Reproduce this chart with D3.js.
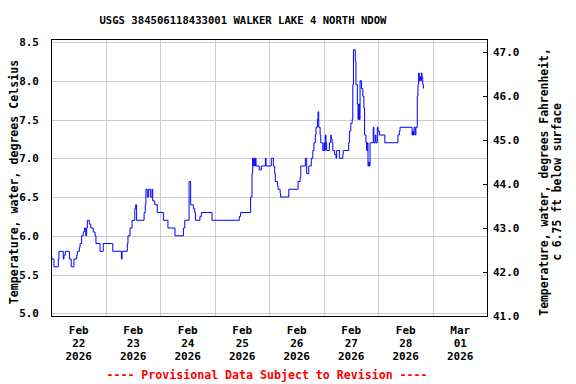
<!DOCTYPE html>
<html lang="en">
<head>
  <meta charset="UTF-8">
  <title>USGS 384506118433001 WALKER LAKE 4 NORTH NDOW</title>
  <style>
    body { margin: 0; background: #fff; }
    text { font-family: "DejaVu Sans Mono", monospace; font-weight: bold; fill: #000; }
    .grid line { stroke: #cccccc; stroke-width: 1px; shape-rendering: crispEdges; }
    .series { fill: none; stroke: #0000ff; stroke-width: 1px; }
    .frame { fill: none; stroke: #000; stroke-width: 1px; shape-rendering: crispEdges; }
    .axis path { display: none; }
    .axis line { stroke: #000; shape-rendering: crispEdges; }
  </style>
</head>
<body>
<div id="chart"></div>
<script src="https://d3js.org/d3.v7.min.js"></script>
<script>
  // hours after 2026-02-22 00:00, value held until the next reading
  var hours = [
    0.0, 0.3, 1.3, 3.2, 3.5, 5.4, 5.7, 6.3, 8.1, 8.9, 10.1, 11.3, 11.6, 12.5, 12.8,
    13.5, 14.2, 14.7, 15.3, 15.7, 16.0, 16.9, 17.5, 18.6, 19.4, 19.8, 21.6, 23.0, 27.2,
    31.0, 31.3, 33.6, 33.9, 34.8, 35.7, 36.9, 37.3, 37.7, 41.0, 41.5, 41.8, 42.4, 43.0,
    43.9, 44.5, 44.8, 45.7, 46.8, 49.5, 51.5, 54.6, 58.3, 58.9, 60.8, 61.5, 62.7, 63.3,
    63.6, 65.6, 66.2, 70.9, 82.9, 83.5, 87.9, 88.5, 88.8, 89.1, 89.4, 89.7, 90.0, 90.3,
    91.7, 92.6, 94.4, 94.7, 97.0, 97.9, 98.5, 98.8, 99.7, 100.0, 100.9, 101.1, 104.7,
    108.8, 109.7, 110.0, 112.0, 112.6, 113.5, 114.6, 115.3, 115.8, 116.4, 116.7, 117.3,
    117.6, 117.9, 118.5, 118.8, 119.7, 120.2, 120.5, 120.8, 121.1, 121.4, 122.6, 123.2,
    123.4, 123.8, 124.1, 124.9, 125.5, 125.8, 127.0, 128.5, 128.7, 131.1, 131.4, 132.0,
    132.6, 132.9, 133.2, 134.0, 134.3, 134.9, 135.2, 135.5, 135.8, 136.1, 136.7, 137.3,
    137.8, 138.1, 138.7, 139.0, 139.3, 139.6, 139.9, 140.2, 140.5, 141.9, 142.2, 142.8,
    143.1, 143.7, 144.0, 144.6, 147.0, 152.8, 153.4, 153.7, 159.0, 159.3, 159.6, 159.9,
    160.4, 160.7, 161.3, 161.6, 161.9, 162.2, 162.5, 162.8, 163.1, 163.4, 163.7, 164.0
  ];
  var tempC = [
    5.75, 5.7, 5.6, 5.7, 5.8, 5.7, 5.75, 5.8, 5.7, 5.6, 5.7, 5.75, 5.8, 5.85, 5.9,
    6.0, 6.05, 6.1, 6.0, 6.1, 6.2, 6.15, 6.1, 6.05, 6.0, 5.9, 5.8, 5.9, 5.8,
    5.7, 5.8, 5.9, 6.0, 6.1, 6.2, 6.35, 6.4, 6.2, 6.3, 6.4, 6.6, 6.5, 6.6,
    6.5, 6.6, 6.45, 6.4, 6.3, 6.2, 6.1, 6.0, 6.1, 6.2, 6.7, 6.4, 6.35, 6.3,
    6.2, 6.25, 6.3, 6.2, 6.25, 6.3, 6.5, 6.8, 7.0, 6.9, 7.0, 6.9, 7.0, 6.9,
    6.85, 6.9, 7.0, 6.9, 7.0, 6.9, 6.8, 6.7, 6.65, 6.6, 6.55, 6.5, 6.6,
    6.7, 6.75, 6.9, 7.0, 6.8, 6.9, 7.0, 7.1, 7.2, 7.3, 7.4, 7.5,
    7.6, 7.4, 7.3, 7.2, 7.1, 7.2, 7.1, 7.3, 7.2, 7.1, 7.2, 7.3,
    7.25, 7.2, 7.1, 7.05, 7.0, 7.1, 7.0, 7.05, 7.1, 7.2, 7.35, 7.45,
    7.5, 7.95, 8.4, 8.25, 7.95, 7.7, 7.5, 7.7, 7.5, 8.0, 7.9, 7.8,
    7.65, 7.3, 7.2, 7.1, 7.2, 6.9, 6.95, 6.9, 7.2, 7.4, 7.2, 7.3,
    7.2, 7.4, 7.35, 7.3, 7.2, 7.3, 7.35, 7.4, 7.3, 7.35, 7.3, 7.4,
    7.3, 7.4, 7.8, 7.95, 8.1, 8.0, 8.05, 8.0, 8.1, 8.05, 7.95, 7.9
  ];

  var startDate = new Date(2026, 1, 22);
  var endDate = new Date(2026, 2, 2);
  var celsiusTicks = [5.0, 5.5, 6.0, 6.5, 7.0, 7.5, 8.0, 8.5];
  var fahrenheitTicks = [41, 42, 43, 44, 45, 46, 47];

  var title = "USGS 384506118433001 WALKER LAKE 4 NORTH NDOW";
  var leftLabel = "Temperature, water, degrees Celsius";
  var rightLabel = ["Temperature, water, degrees Fahrenheit,", "c 6.75 ft below surface"];
  var footer = "---- Provisional Data Subject to Revision ----";

  var width = 576, height = 384;
  var plotLeft = 51, plotRight = 487, plotTop = 39, plotBottom = 316;

  var svg = d3.select("#chart")
    .append("svg")
    .attr("width", width)
    .attr("height", height);

  var x = d3.scaleTime().domain([startDate, endDate]).range([plotLeft, plotRight]);
  var yC = d3.scaleLinear().domain([4.965, 8.539]).range([plotBottom, plotTop]);
  var yF = d3.scaleLinear().domain([41, 47.30]).range([plotBottom, plotTop]);

  var data = hours.map(function(h, i) {
    return { t: new Date(startDate.getTime() + h * 3600 * 1000), v: tempC[i] };
  });

  // grid
  var grid = svg.append("g").attr("class", "grid");
  grid.selectAll(".h").data(celsiusTicks).enter().append("line")
    .attr("x1", plotLeft).attr("x2", plotRight)
    .attr("y1", function(d) { return Math.round(yC(d)) + 0.5; })
    .attr("y2", function(d) { return Math.round(yC(d)) + 0.5; });
  grid.selectAll(".v").data(d3.timeDay.range(d3.timeDay.offset(startDate, 1), endDate)).enter().append("line")
    .attr("y1", plotTop).attr("y2", plotBottom)
    .attr("x1", function(d) { return Math.round(x(d)) + 0.5; })
    .attr("x2", function(d) { return Math.round(x(d)) + 0.5; });

  // the series
  var line = d3.line()
    .curve(d3.curveStepAfter)
    .x(function(d) { return x(d.t); })
    .y(function(d) { return yC(d.v); });

  svg.append("path").datum(data).attr("class", "series").attr("d", line);

  svg.append("rect").attr("class", "frame")
    .attr("x", plotLeft + 0.5).attr("y", plotTop + 0.5)
    .attr("width", plotRight - plotLeft).attr("height", plotBottom - plotTop);

  // left axis
  svg.append("g").attr("class", "axis")
    .attr("transform", "translate(" + plotLeft + ",0)")
    .call(d3.axisLeft(yC).tickValues(celsiusTicks).tickSize(0).tickPadding(12).tickFormat(d3.format(".1f")))
    .selectAll("text").style("font-size", "11px").style("font-family", null);

  // right axis
  svg.append("g").attr("class", "axis")
    .attr("transform", "translate(" + plotRight + ",0)")
    .call(d3.axisRight(yF).tickValues(fahrenheitTicks).tickSizeInner(-4).tickSizeOuter(0).tickPadding(6).tickFormat(d3.format(".1f")))
    .selectAll("text").style("font-size", "11px").style("font-family", null);

  // bottom axis, labels at noon
  var noons = d3.timeDay.range(startDate, endDate).map(function(d) { return d3.timeHour.offset(d, 12); });
  var xAxis = svg.append("g").attr("class", "axis")
    .attr("transform", "translate(0," + plotBottom + ")")
    .call(d3.axisBottom(x).tickValues(noons).tickSize(0).tickFormat(""));
  xAxis.selectAll(".tick line").remove();
  var fmt = [d3.timeFormat("%b"), d3.timeFormat("%d"), d3.timeFormat("%Y")];
  xAxis.selectAll(".tick text")
    .attr("y", 18)
    .attr("dy", null)
    .style("font-size", "11px")
    .style("font-family", null)
    .each(function(d) {
      var t = d3.select(this);
      fmt.forEach(function(f, i) {
        t.append("tspan").attr("x", 0).attr("y", 18 + i * 13).text(f(d));
      });
    });

  // titles
  svg.append("text")
    .attr("x", 243).attr("y", 24)
    .attr("text-anchor", "middle")
    .style("font-size", "10.6px")
    .text(title);

  svg.append("text")
    .attr("transform", "translate(18,182) rotate(-90)")
    .attr("text-anchor", "middle")
    .style("font-size", "11.6px")
    .text(leftLabel);

  rightLabel.forEach(function(s, i) {
    svg.append("text")
      .attr("transform", "translate(" + (548 + i * 13) + ",182) rotate(-90)")
      .attr("text-anchor", "middle")
      .style("font-size", "11.4px")
      .text(s);
  });

  svg.append("text")
    .attr("x", 267).attr("y", 379)
    .attr("text-anchor", "middle")
    .style("font-size", "11.6px")
    .style("fill", "#ff0000")
    .text(footer);
</script>
</body>
</html>
